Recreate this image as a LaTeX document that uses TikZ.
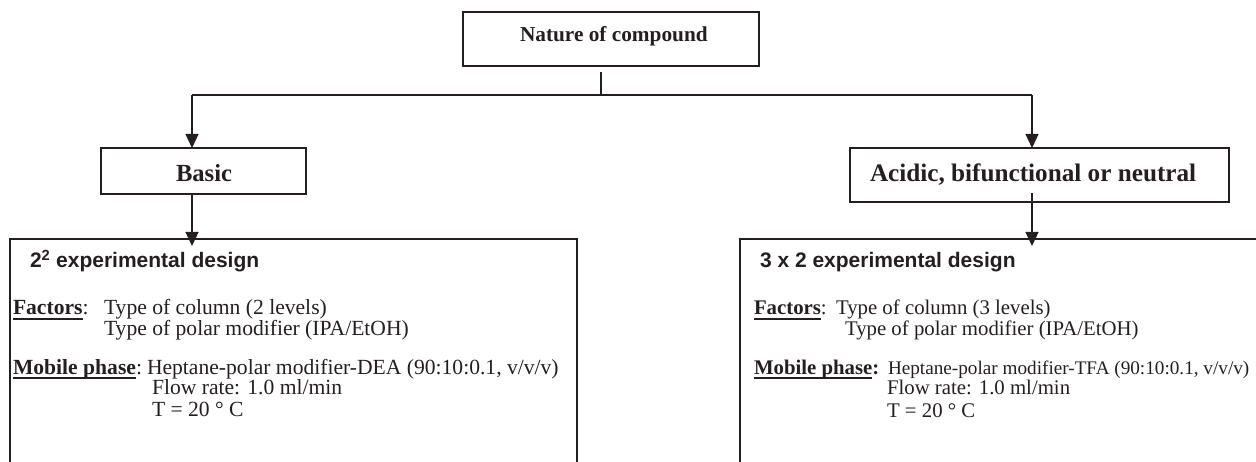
\documentclass[tikz,border=0pt]{standalone}
\usepackage{fontspec}
\setmainfont{Liberation Serif}
\setsansfont{Liberation Sans}
\usetikzlibrary{arrows.meta,calc}
\definecolor{ink}{HTML}{231F20}
\newcommand\myul[1]{\setbox0\hbox{#1}\rlap{\rule[-4.6pt]{\wd0}{1.2pt}}\box0}
\begin{document}
\begin{tikzpicture}[x=1pt,y=-1pt,
  every node/.style={inner sep=0pt, outer sep=0pt, text=ink},
  boxn/.style={draw=ink, line width=1.4pt, rectangle},
  txt/.style={anchor=base west},
  arr/.style={draw=ink, line width=1.2pt, -{Triangle[width=13pt,length=14pt]}},
  ln/.style={draw=ink, line width=1.2pt},
  big/.style={font=\fontsize{21.6}{24}\selectfont},
  bigr/.style={font=\fontsize{20.8}{24}\selectfont},
  hdr/.style={font=\sffamily\bfseries\fontsize{21}{24}\selectfont},
]
\useasboundingbox (0,0) rectangle (1256,462);
\clip (0,0) rectangle (1256,462);

% boxes
\node[boxn, minimum width=296pt, minimum height=54pt] (nature) at (611,39) {};
\node[boxn, minimum width=205pt, minimum height=46pt] (basic) at (203.5,171) {};
\node[boxn, minimum width=379pt, minimum height=54pt] (acidic) at (1039.5,175) {};
\node[boxn, minimum width=567pt, minimum height=281pt] (leftbox) at (293.5,379.5) {};
\node[boxn, minimum width=535pt, minimum height=281pt] (rightbox) at (1007.5,379.5) {};

% box titles
\node[txt, font=\bfseries\fontsize{21.3}{24}\selectfont] (tnature) at (520,42) {Nature of compound};
\node[txt, font=\bfseries\fontsize{24.6}{28}\selectfont] (tbasic) at (176,182) {Basic};
\node[txt, font=\bfseries\fontsize{25.2}{28}\selectfont] (tacidic) at (870,182) {Acidic, bifunctional or neutral};

% connectors
\coordinate (stemtop) at (601,72);
\coordinate (split) at (601,95);
\coordinate (lt) at (192,95);
\coordinate (rt) at (1032,95);
\coordinate (astart) at (1032,193);
\draw[ln] (stemtop) -- (split);
\draw[ln] (lt) -- (rt);
\draw[arr] (lt) -- (lt |- basic.north);
\draw[arr] (rt) -- (rt |- acidic.north);
\draw[arr] (lt |- basic.south) -- ([yshift=-7pt]lt |- leftbox.north);
\draw[arr] (astart) -- ([yshift=-7pt]astart |- rightbox.north);

% left box text
\node[txt, hdr] (lh) at (30,268) {2\textsuperscript{2} experimental design};
\node[txt, big] (lf) at (13,315) {\myul{\textbf{Factors}}:};
\node[txt, big] (lf1) at (104,315) {Type of column (2 levels)};
\node[txt, big] (lf2) at (104,336) {Type of polar modifier (IPA/EtOH)};
\node[txt, big] (lm) at (13,374) {\myul{\textbf{Mobile phase}}:};
\node[txt, big] (lm1) at (147,374) {Heptane-polar modifier-DEA (90:10:0.1, v/v/v)};
\node[txt, big] (lm2) at (152,395) {Flow rate: 1.0 ml/min};
\node[txt, big] (lm3) at (152,416) {T = 20 ° C};

% right box text
\node[txt, hdr] (rh) at (760,268) {3 x 2 experimental design};
\node[txt, bigr] (rf) at (754,315) {\myul{\textbf{Factors}}:};
\node[txt, bigr] (rf1) at (836,315) {Type of column (3 levels)};
\node[txt, bigr] (rf2) at (845,336) {Type of polar modifier (IPA/EtOH)};
\node[txt, bigr] (rm) at (754,374) {\myul{\textbf{Mobile phase}}\textbf{:}};
\node[txt, font=\fontsize{19.2}{22}\selectfont] (rm1) at (888,374) {Heptane-polar modifier-TFA (90:10:0.1, v/v/v)};
\node[txt, bigr] (rm2) at (887,395) {Flow rate: 1.0 ml/min};
\node[txt, bigr] (rm3) at (887,417) {T = 20 ° C};
\end{tikzpicture}
\end{document}
